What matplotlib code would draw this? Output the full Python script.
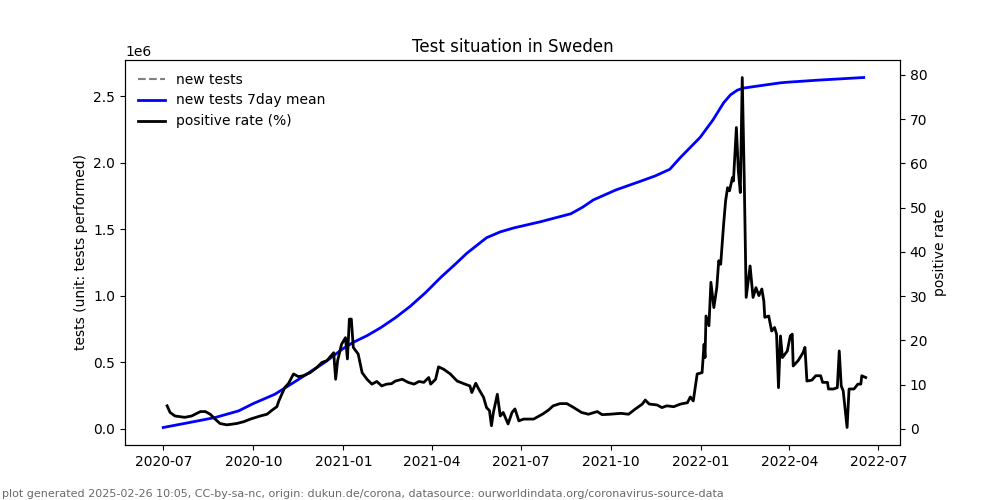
import matplotlib
matplotlib.use("Agg")
import matplotlib.pyplot as plt
import numpy as np
import pandas as pd

# Data; days counted from 2020-07-01.
start = pd.Timestamp("2020-07-01")

tests_days = [0, 25, 53, 77, 92, 114, 140, 165, 183, 194, 208, 222, 237, 252,
              268, 283, 297, 310, 330, 344, 358, 385, 416, 428, 439, 462, 487,
              502, 517, 528, 548, 561, 572, 579, 586, 592, 606, 630, 638, 668,
              715]
tests_mean = [0.01, 0.045, 0.085, 0.135, 0.19, 0.26, 0.38, 0.50, 0.60, 0.65,
              0.70, 0.76, 0.835, 0.92, 1.025, 1.136, 1.23, 1.32, 1.436, 1.48,
              1.51, 1.556, 1.616, 1.665, 1.72, 1.795, 1.86, 1.90, 1.95, 2.04,
              2.19, 2.32, 2.45, 2.51, 2.545, 2.56, 2.575, 2.60, 2.605, 2.62,
              2.64]  # in 1e6

rate_days = [4, 7, 12, 22, 29, 38, 43, 48, 53, 58, 65, 75, 82, 89, 99, 106,
             111, 116, 118, 121, 124, 128, 133, 138, 143, 150, 157, 162, 167,
             174, 176, 178, 182, 186, 188, 190, 192, 194, 199, 203, 208, 213,
             218, 223, 228, 233, 237, 244, 250, 256, 261, 266, 271, 273, 278,
             281, 286, 293, 300, 308, 313, 315, 319, 322, 327, 330, 333, 335,
             337, 341, 344, 347, 352, 356, 359, 363, 368, 378, 387, 393, 398,
             405, 412, 419, 427, 434, 443, 448, 456, 467, 475, 482, 489, 492,
             496, 504, 509, 514, 521, 528, 535, 538, 541, 545, 550, 552, 553,
             554, 557, 559, 562, 565, 567, 569, 572, 574, 576, 578, 581, 582,
             585, 587, 589, 591, 593, 595, 598, 599, 602, 605, 608, 611, 613,
             614, 618, 621, 624, 626, 628, 630, 632, 637, 640, 642, 643, 648,
             653, 655, 657, 662, 666, 671, 673, 678, 679, 684, 688, 690, 692,
             694, 698, 700, 705, 709, 712, 713, 717]
positive_rate = [5.2, 3.7, 2.9, 2.6, 2.9, 3.9, 3.9, 3.3, 2.2, 1.2, 0.9, 1.2,
                 1.6, 2.2, 2.9, 3.3, 4.2, 5.0, 6.3, 7.8, 9.3, 10.3, 12.4,
                 11.8, 12.0, 12.7, 13.9, 15.0, 15.4, 17.2, 11.2, 15.4, 19.1,
                 20.6, 15.8, 24.8, 24.8, 18.4, 16.9, 12.7, 11.2, 10.1, 10.7,
                 9.7, 10.1, 10.2, 10.8, 11.2, 10.5, 10.1, 10.7, 10.5, 11.6,
                 10.1, 11.2, 14.0, 13.5, 12.4, 10.8, 10.1, 9.7, 8.2, 10.3,
                 9.0, 7.1, 4.8, 4.1, 0.7, 3.7, 7.8, 2.9, 3.7, 1.1, 3.7, 4.5,
                 1.8, 2.2, 2.2, 3.3, 4.2, 5.2, 5.7, 5.7, 4.8, 3.7, 3.3, 3.9,
                 3.2, 3.3, 3.5, 3.3, 4.5, 5.6, 6.5, 5.6, 5.4, 4.8, 5.2, 5.0,
                 5.6, 5.9, 7.2, 6.3, 12.4, 12.7, 19.1, 16.1, 25.5, 23.3, 33.1,
                 27.4, 31.9, 38.0, 37.2, 46.3, 51.5, 54.5, 53.8, 56.8, 56.0,
                 68.1, 58.3, 53.4, 79.4, 56.8, 29.7, 35.0, 36.8, 29.7, 31.9,
                 30.1, 31.6, 28.9, 25.2, 25.5, 22.1, 22.9, 21.4, 9.3, 21.0,
                 16.1, 17.6, 21.0, 21.4, 14.2, 15.4, 17.2, 18.4, 10.8, 11.0,
                 12.0, 12.0, 10.5, 10.5, 9.0, 9.0, 9.3, 17.6, 9.7, 8.6, 0.3,
                 9.0, 9.0, 10.1, 10.1, 12.0, 11.6]

tests_dates = start + pd.to_timedelta(tests_days, unit="D")
rate_dates = start + pd.to_timedelta(rate_days, unit="D")

fig, ax = plt.subplots(figsize=(10, 5), dpi=100)
ax2 = ax.twinx()

# "new tests" has no data in the plotted range, only the legend entry shows
l0, = ax.plot([], [], color="gray", linestyle="--", label="new tests")
l1, = ax.plot(tests_dates, np.array(tests_mean) * 1e6, color="blue", lw=2,
              label="new tests 7day mean")
l2, = ax2.plot(rate_dates, positive_rate, color="black", lw=2,
               label="positive rate (%)")

ax.set_xlim(start - pd.Timedelta(days=39), start + pd.Timedelta(days=752))
ax.set_ylabel("tests (unit: tests performed)")
ax2.set_ylabel("positive rate")
ax.set_title("Test situation in Sweden")

ax.xaxis.set_major_formatter(matplotlib.dates.DateFormatter("%Y-%m"))
ax.xaxis.set_major_locator(matplotlib.dates.MonthLocator(bymonth=[1, 4, 7, 10]))

ax.legend(handles=[l0, l1, l2], loc="upper left", frameon=False)

fig.text(0.002, 0.006, "plot generated 2025-02-26 10:05, CC-by-sa-nc, origin: dukun.de/corona, "
         "datasource: ourworldindata.org/coronavirus-source-data",
         fontsize=8, color="dimgray")

plt.savefig("out.png", dpi=100)
